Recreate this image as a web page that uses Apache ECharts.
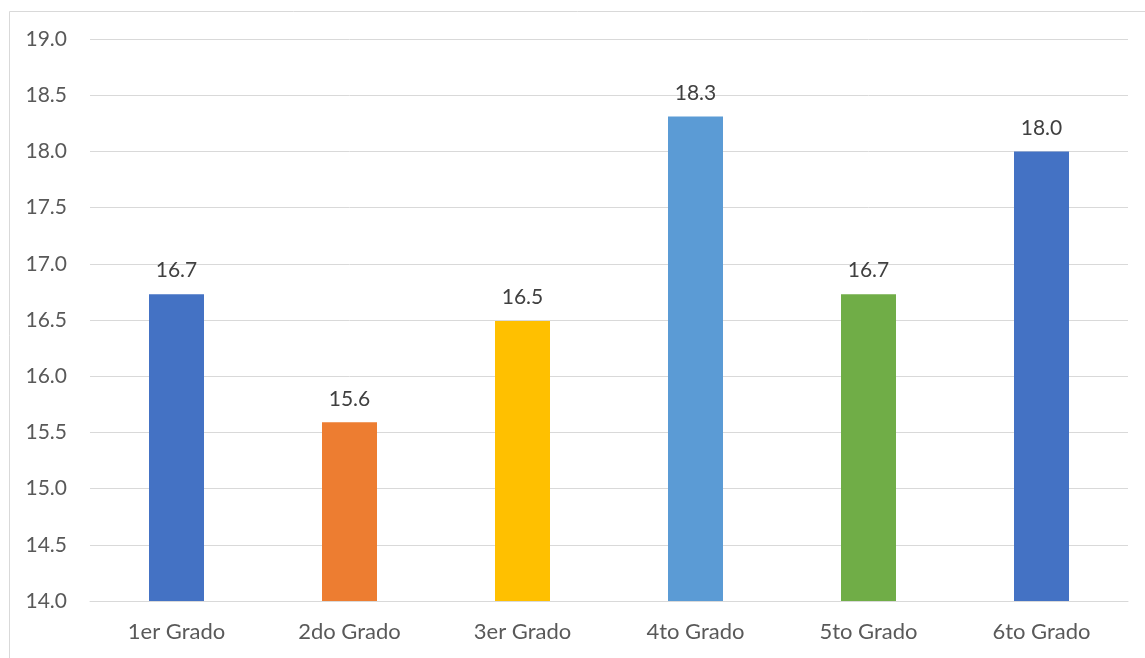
<!DOCTYPE html>
<html>
<head>
<meta charset="utf-8">
<script src="https://cdn.jsdelivr.net/npm/echarts@6/dist/echarts.min.js"></script>
<style>
html,body{margin:0;padding:0;background:#fff;}
#c{width:1145px;height:658px;}
</style>
</head>
<body>
<div id="c"></div>
<script>
const categories = ['1er Grado','2do Grado','3er Grado','4to Grado','5to Grado','6to Grado'];
const values = [16.73, 15.59, 16.49, 18.31, 16.73, 18.0];
const barColors = ['#4472C4','#ED7D31','#FFC000','#5B9BD5','#70AD47','#4472C4'];
const yMin = 14.0, yMax = 19.0, yStep = 0.5;

const chart = echarts.init(document.getElementById('c'));
const font = 'Lato, "Noto Sans", sans-serif';
chart.setOption({
  animation: false,
  graphic: [{
    type: 'rect', left: 7, top: 9,
    shape: {width: 1150, height: 660},
    style: {fill: 'none', stroke: '#d9d9d9', lineWidth: 1},
    silent: true
  }],
  grid: {left: 90, right: 17, top: 39, bottom: 57},
  xAxis: {
    type: 'category',
    data: categories,
    axisLine: {show: true, lineStyle: {color: '#d9d9d9', width: 1}},
    axisTick: {show: false},
    axisLabel: {color: '#595959', fontSize: 22, margin: 20, fontFamily: font}
  },
  yAxis: {
    type: 'value',
    min: yMin, max: yMax, interval: yStep,
    axisLine: {show: false},
    axisTick: {show: false},
    splitLine: {lineStyle: {color: '#d9d9d9', width: 1}},
    axisLabel: {color: '#595959', fontSize: 21, margin: 23, fontFamily: font,
      formatter: v => v.toFixed(1)}
  },
  series: [{
    type: 'bar',
    barWidth: 55,
    data: values.map((v, i) => ({value: v, itemStyle: {color: barColors[i]}})),
    label: {
      show: true, position: 'top', distance: 13,
      color: '#404040', fontSize: 21, fontFamily: font,
      formatter: p => p.value.toFixed(1)
    }
  }]
});
</script>
</body>
</html>
